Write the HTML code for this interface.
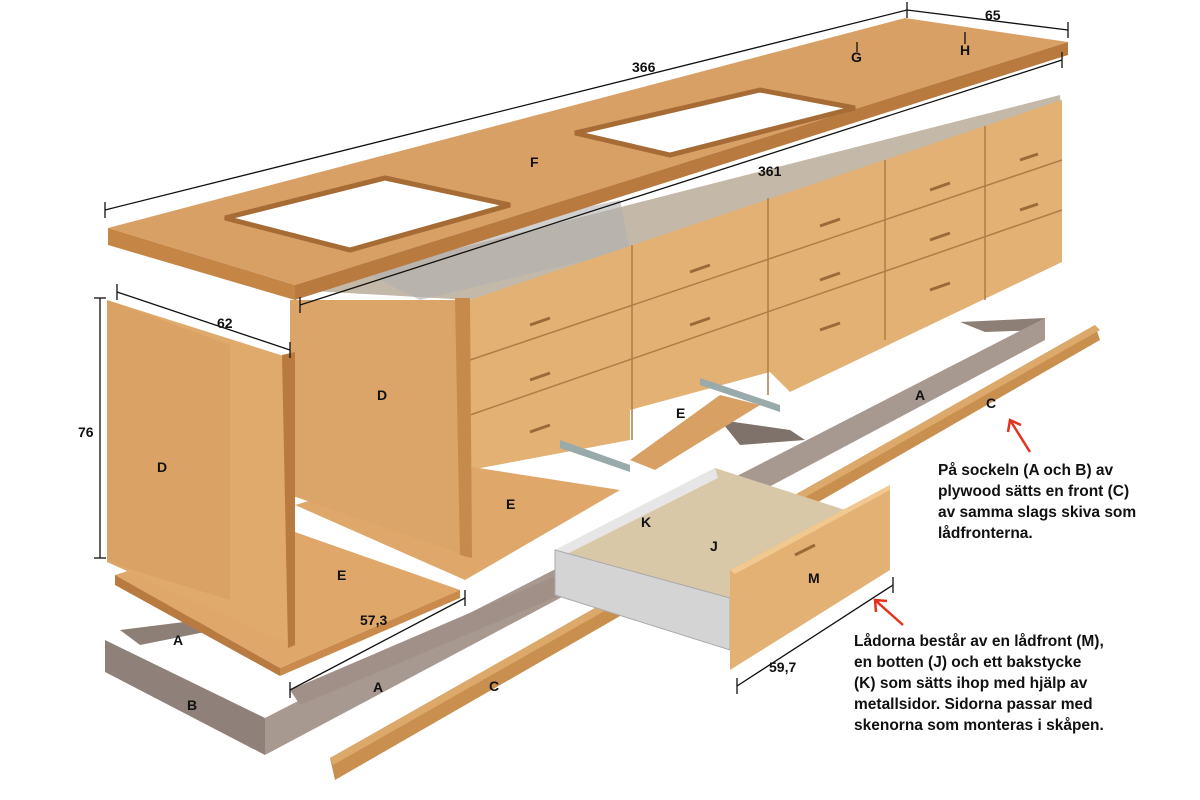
<!DOCTYPE html>
<html><head><meta charset="utf-8"><style>
html,body{margin:0;padding:0;background:#fff}
svg{display:block}
text{font-family:"Liberation Sans Narrow","Liberation Sans",sans-serif;font-weight:bold;fill:#111}
.l{font-size:14px}
.n{font-size:15.5px}
</style></head><body>
<svg width="1200" height="800" viewBox="0 0 1200 800" xmlns="http://www.w3.org/2000/svg">
<!-- plinth frame (gray) -->
<polygon points="960,322 1045,318 1045,330 985,332" fill="#8d7f76"/>
<polygon points="720,420 790,430 805,440 740,445" fill="#7f726a"/>
<polygon points="105,640 265,718 265,755 105,672" fill="#8f8079"/>
<polygon points="265,718 1045,318 1045,340 265,755" fill="#a79890"/>
<polygon points="120,630 200,620 215,630 140,645" fill="#8d7f76"/>
<polygon points="290,690 640,540 655,555 300,705" fill="#a09088"/>
<!-- C bar -->
<polygon points="330,758 1095,325 1100,340 335,780" fill="#c98f4f"/>
<polygon points="330,758 1095,325 1100,330 333,765" fill="#dca96a"/>
<!-- back cabinet interior -->
<polygon points="295,290 1060,95 1062,120 470,300" fill="#c4b8a8"/>
<polygon points="340,260 620,200 630,250 420,300" fill="#b0b0b0" opacity=".6"/>
<!-- drawer bank front -->
<polygon points="470,300 1062,100 1062,262 790,392 770,372 630,410 630,440 470,470" fill="#e3b174"/>
<g stroke="#b07c45" stroke-width="1.5" fill="none">
<line x1="470" y1="360" x2="1062" y2="160"/>
<line x1="470" y1="415" x2="1062" y2="210"/>
<line x1="632" y1="245" x2="632" y2="440"/>
<line x1="768" y1="198" x2="768" y2="395"/>
<line x1="885" y1="160" x2="885" y2="340"/>
<line x1="985" y1="126" x2="985" y2="300"/>
</g>
<g stroke="#9a6a3a" stroke-width="3">
<line x1="530" y1="325" x2="550" y2="318"/><line x1="690" y1="272" x2="710" y2="265"/><line x1="820" y1="226" x2="840" y2="219"/><line x1="930" y1="190" x2="950" y2="183"/><line x1="1020" y1="160" x2="1038" y2="154"/>
<line x1="530" y1="380" x2="550" y2="373"/><line x1="690" y1="325" x2="710" y2="318"/><line x1="820" y1="280" x2="840" y2="273"/><line x1="930" y1="240" x2="950" y2="233"/><line x1="1020" y1="210" x2="1038" y2="204"/>
<line x1="530" y1="432" x2="550" y2="425"/><line x1="820" y1="330" x2="840" y2="323"/><line x1="930" y1="290" x2="950" y2="283"/>
</g>
<!-- rails -->
<polygon points="560,440 630,465 630,472 560,448" fill="#9aa"/>
<polygon points="700,378 780,405 780,412 700,385" fill="#9aa"/>
<!-- E shelves -->
<polygon points="630,460 720,395 760,405 655,470" fill="#d9a064"/>
<polygon points="295,505 440,462 620,490 465,580" fill="#dfa769"/>
<polygon points="115,575 275,525 460,590 280,668" fill="#dfa769"/>
<polygon points="115,575 280,668 280,676 115,585" fill="#b97a40"/>
<polygon points="280,668 460,590 460,598 280,676" fill="#c98a4c"/>
<!-- middle D panel -->
<polygon points="290,300 465,300 465,555 290,495" fill="#dba468"/>
<polygon points="455,298 470,298 472,558 460,555" fill="#c68a4c"/>
<!-- left D panel -->
<polygon points="107,300 290,358 290,645 107,562" fill="#e0aa6c"/>
<polygon points="107,300 230,345 230,600 107,562" fill="#d39a5c" opacity=".5"/>
<polygon points="282,355 295,352 295,645 288,648" fill="#b87a40"/>
<!-- countertop -->
<polygon points="108,228 905,18 1068,42 295,285" fill="#d9a066"/>
<polygon points="295,285 1068,42 1068,55 295,300" fill="#b97a40"/>
<polygon points="108,228 295,285 295,300 108,245" fill="#c58645"/>
<polygon points="225,218 385,178 510,205 350,250" fill="#fff" stroke="#a76c35" stroke-width="5"/>
<polygon points="575,133 760,90 855,108 670,155" fill="#fff" stroke="#a76c35" stroke-width="5"/>
<!-- drawer J/K/M -->
<polygon points="555,550 715,468 870,518 730,598" fill="#d8c8a8"/>
<polygon points="555,550 715,468 718,478 565,555" fill="#e6e6e6"/>
<polygon points="555,550 730,598 730,650 555,595" fill="#d4d4d4" stroke="#aaa"/>
<polygon points="730,570 890,485 890,570 730,670" fill="#e3b174"/>
<polygon points="730,570 890,485 890,490 735,574" fill="#f0c890"/>
<line x1="795" y1="555" x2="815" y2="545" stroke="#9a6a3a" stroke-width="3"/>
<!-- dimension lines -->
<g stroke="#111" stroke-width="1.3" fill="none">
<line x1="105" y1="210" x2="907" y2="10"/><line x1="105" y1="202" x2="105" y2="218"/><line x1="907" y1="2" x2="907" y2="18"/>
<line x1="907" y1="10" x2="1068" y2="30"/><line x1="1068" y1="22" x2="1068" y2="38"/>
<line x1="300" y1="305" x2="1062" y2="60"/><line x1="300" y1="297" x2="300" y2="313"/><line x1="1062" y1="52" x2="1062" y2="68"/>
<line x1="117" y1="292" x2="290" y2="350"/><line x1="117" y1="284" x2="117" y2="300"/><line x1="290" y1="342" x2="290" y2="358"/>
<line x1="100" y1="298" x2="100" y2="558"/><line x1="94" y1="298" x2="106" y2="298"/><line x1="94" y1="558" x2="106" y2="558"/>
<line x1="290" y1="690" x2="465" y2="598"/><line x1="290" y1="682" x2="290" y2="698"/><line x1="465" y1="590" x2="465" y2="606"/>
<line x1="737" y1="686" x2="893" y2="585"/><line x1="737" y1="678" x2="737" y2="694"/><line x1="893" y1="577" x2="893" y2="593"/>
<line x1="857" y1="42" x2="857" y2="52"/><line x1="965" y1="32" x2="965" y2="44"/>
</g>
<!-- red arrows -->
<g stroke="#e4321e" stroke-width="2.5" fill="none">
<line x1="1030" y1="452" x2="1010" y2="420"/><polyline points="1008,432 1010,420 1021,425"/>
<line x1="903" y1="625" x2="875" y2="600"/><polyline points="876,612 875,600 887,601"/>
</g>
<!-- labels -->
<text class="l" x="632" y="72">366</text>
<text class="l" x="985" y="20">65</text>
<text class="l" x="851" y="62">G</text>
<text class="l" x="960" y="55">H</text>
<text class="l" x="530" y="167">F</text>
<text class="l" x="758" y="176">361</text>
<text class="l" x="217" y="328">62</text>
<text class="l" x="78" y="437">76</text>
<text class="l" x="157" y="472">D</text>
<text class="l" x="377" y="400">D</text>
<text class="l" x="676" y="418">E</text>
<text class="l" x="506" y="509">E</text>
<text class="l" x="337" y="580">E</text>
<text class="l" x="360" y="625">57,3</text>
<text class="l" x="173" y="645">A</text>
<text class="l" x="187" y="710">B</text>
<text class="l" x="373" y="692">A</text>
<text class="l" x="489" y="691">C</text>
<text class="l" x="915" y="400">A</text>
<text class="l" x="986" y="408">C</text>
<text class="l" x="641" y="527">K</text>
<text class="l" x="710" y="551">J</text>
<text class="l" x="808" y="583">M</text>
<text class="l" x="769" y="672">59,7</text>
<text class="n" x="938" y="475">På sockeln (A och B) av</text>
<text class="n" x="938" y="496">plywood sätts en front (C)</text>
<text class="n" x="938" y="517">av samma slags skiva som</text>
<text class="n" x="938" y="538">lådfronterna.</text>
<text class="n" x="854" y="646">Lådorna består av en lådfront (M),</text>
<text class="n" x="854" y="667">en botten (J) och ett bakstycke</text>
<text class="n" x="854" y="688">(K) som sätts ihop med hjälp av</text>
<text class="n" x="854" y="709">metallsidor. Sidorna passar med</text>
<text class="n" x="854" y="730">skenorna som monteras i skåpen.</text>
</svg>
</body></html>
